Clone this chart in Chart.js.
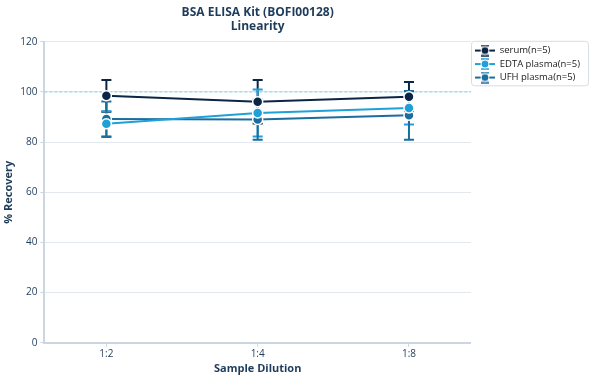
<!DOCTYPE html>
<html><head><meta charset="utf-8">
<script src="https://cdn.jsdelivr.net/npm/chart.js@4/dist/chart.umd.min.js"></script>
<style>html,body{margin:0;padding:0;background:#fff}#wrap{width:590px;height:380px}</style>
</head><body><div id="wrap"><canvas id="c" width="590" height="380"></canvas></div>
<script>
const categories = ["1:2", "1:4", "1:8"];
const seriesNames = ["serum(n=5)", "EDTA plasma(n=5)", "UFH plasma(n=5)"];
const serum = [98.5, 96.1, 98.1];
const serumLow = [92.1, 87.4, 92.2];
const serumHigh = [104.8, 104.8, 104.0];
const edta = [87.3, 91.6, 93.6];
const edtaLow = [82.3, 82.2, 87.0];
const edtaHigh = [92.3, 101.0, 100.2];
const ufh = [89.2, 89.0, 90.7];
const ufhLow = [82.0, 81.0, 81.0];
const ufhHigh = [96.2, 97.0, 100.4];
const yTicks = [0, 20, 40, 60, 80, 100, 120];
const refValue = 100;
const colors = ["#0b2545", "#1fa0d8", "#1b6d9e"];

const FONT = "'Open Sans', 'Noto Sans', sans-serif";
const TXT = "#1d3b5a";

function ds(label, vals, lo, hi, color) {
  return {
    label: label,
    data: vals.map((v, i) => ({x: i + 1, y: v, lo: lo[i], hi: hi[i]})),
    borderColor: color, backgroundColor: color,
    borderWidth: 2, pointRadius: 5, pointHoverRadius: 5,
    pointBorderColor: "#ffffff", pointBorderWidth: 1.5,
    pointBackgroundColor: color, tension: 0
  };
}

function legendIcon(color) {
  const c = document.createElement("canvas");
  c.width = 20; c.height = 12;
  const g = c.getContext("2d");
  g.strokeStyle = color; g.lineWidth = 2;
  g.beginPath(); g.moveTo(0, 6); g.lineTo(20, 6); g.stroke();
  g.lineWidth = 1.5;
  g.beginPath(); g.moveTo(6, 1); g.lineTo(14, 1); g.moveTo(6, 11); g.lineTo(14, 11); g.stroke();
  g.fillStyle = color; g.strokeStyle = "#fff"; g.lineWidth = 1;
  g.beginPath(); g.arc(10, 6, 4, 0, Math.PI * 2); g.fill(); g.stroke();
  return c;
}

const errorBars = {
  id: "errorBars",
  beforeDatasetsDraw(chart) {
    const ctx = chart.ctx, xs = chart.scales.x, ys = chart.scales.y;
    ctx.save();
    ctx.strokeStyle = "#8ccbe6"; ctx.lineWidth = 1; ctx.setLineDash([3, 2]);
    const ry = ys.getPixelForValue(refValue);
    ctx.beginPath(); ctx.moveTo(chart.chartArea.left, ry); ctx.lineTo(chart.chartArea.right, ry); ctx.stroke();
    ctx.setLineDash([]);
    chart.data.datasets.forEach(d => {
      ctx.strokeStyle = d.borderColor; ctx.lineWidth = 2;
      d.data.forEach(p => {
        const x = xs.getPixelForValue(p.x);
        const y1 = ys.getPixelForValue(p.lo), y2 = ys.getPixelForValue(p.hi);
        ctx.beginPath();
        ctx.moveTo(x, y1); ctx.lineTo(x, y2);
        ctx.moveTo(x - 5, y1); ctx.lineTo(x + 5, y1);
        ctx.moveTo(x - 5, y2); ctx.lineTo(x + 5, y2);
        ctx.stroke();
      });
    });
    ctx.restore();
  },
  afterDraw(chart) {
    const l = chart.legend, ctx = chart.ctx;
    if (!l) return;
    ctx.save();
    ctx.strokeStyle = "#d5dde5"; ctx.lineWidth = 1;
    const h = l.legendHitBoxes;
    const top = h[0].top - 5, bottom = h[h.length - 1].top + h[h.length - 1].height + 3;
    const left = h[0].left - 4, right = 588;
    ctx.beginPath();
    if (ctx.roundRect) ctx.roundRect(left + 0.5, top + 0.5, right - left, bottom - top, 3);
    else ctx.rect(left + 0.5, top + 0.5, right - left, bottom - top);
    ctx.stroke();
    ctx.restore();
  }
};

new Chart(document.getElementById("c"), {
  type: "line",
  data: {
    datasets: [
      ds(seriesNames[0], serum, serumLow, serumHigh, colors[0]),
      ds(seriesNames[1], edta, edtaLow, edtaHigh, colors[1]),
      ds(seriesNames[2], ufh, ufhLow, ufhHigh, colors[2])
    ]
  },
  options: {
    responsive: false, animation: false,
    layout: {padding: {left: 2, right: 0, top: 3, bottom: 5}},
    plugins: {
      tooltip: {enabled: false},
      title: {
        display: true, fullSize: false,
        text: ["BSA ELISA Kit (BOFI00128)", "Linearity"],
        color: TXT, font: {family: FONT, size: 12, weight: "bold", lineHeight: 1.2},
        padding: {top: 2, bottom: 8}
      },
      legend: {
        position: "right", align: "start", fullSize: false,
        labels: {
          color: "#1a1a1a", font: {family: FONT, size: 9.5},
          usePointStyle: true, pointStyleWidth: 20, boxWidth: 20, boxHeight: 10, padding: 4,
          generateLabels(chart) {
            return chart.data.datasets.map((d, i) => ({
              text: d.label, pointStyle: legendIcon(d.borderColor),
              fillStyle: d.borderColor, strokeStyle: d.borderColor,
              lineWidth: 0, hidden: false, datasetIndex: i, fontColor: "#1a1a1a"
            }));
          }
        }
      }
    },
    scales: {
      x: {
        type: "linear", min: 0.59, max: 3.41,
        afterBuildTicks(s) { s.ticks = categories.map((c, i) => ({value: i + 1})); },
        ticks: {
          callback: (v) => categories[Math.round(v) - 1] || "",
          color: TXT, font: {family: FONT, size: 10}, padding: 1, autoSkip: false, maxRotation: 0
        },
        grid: {display: true, drawOnChartArea: false, drawTicks: true, tickLength: 4, color: "#ccd6e0"},
        border: {display: true, color: "#ccd6e0", width: 2},
        title: {display: true, text: "Sample Dilution", color: TXT, font: {family: FONT, size: 11, weight: "bold"}, padding: {top: 1, bottom: 0}}
      },
      y: {
        min: 0, max: 120,
        afterBuildTicks(s) { s.ticks = yTicks.map(v => ({value: v})); },
        ticks: {color: TXT, font: {family: FONT, size: 10}, padding: 3},
        grid: {color: "#e3e8ee", tickLength: 4, tickColor: "#ccd6e0"},
        border: {display: true, color: "#ccd6e0", width: 2},
        title: {display: true, text: "% Recovery", color: TXT, font: {family: FONT, size: 11, weight: "bold"}, padding: {top: 0, bottom: 2}}
      }
    }
  },
  plugins: [errorBars]
});
</script></body></html>
